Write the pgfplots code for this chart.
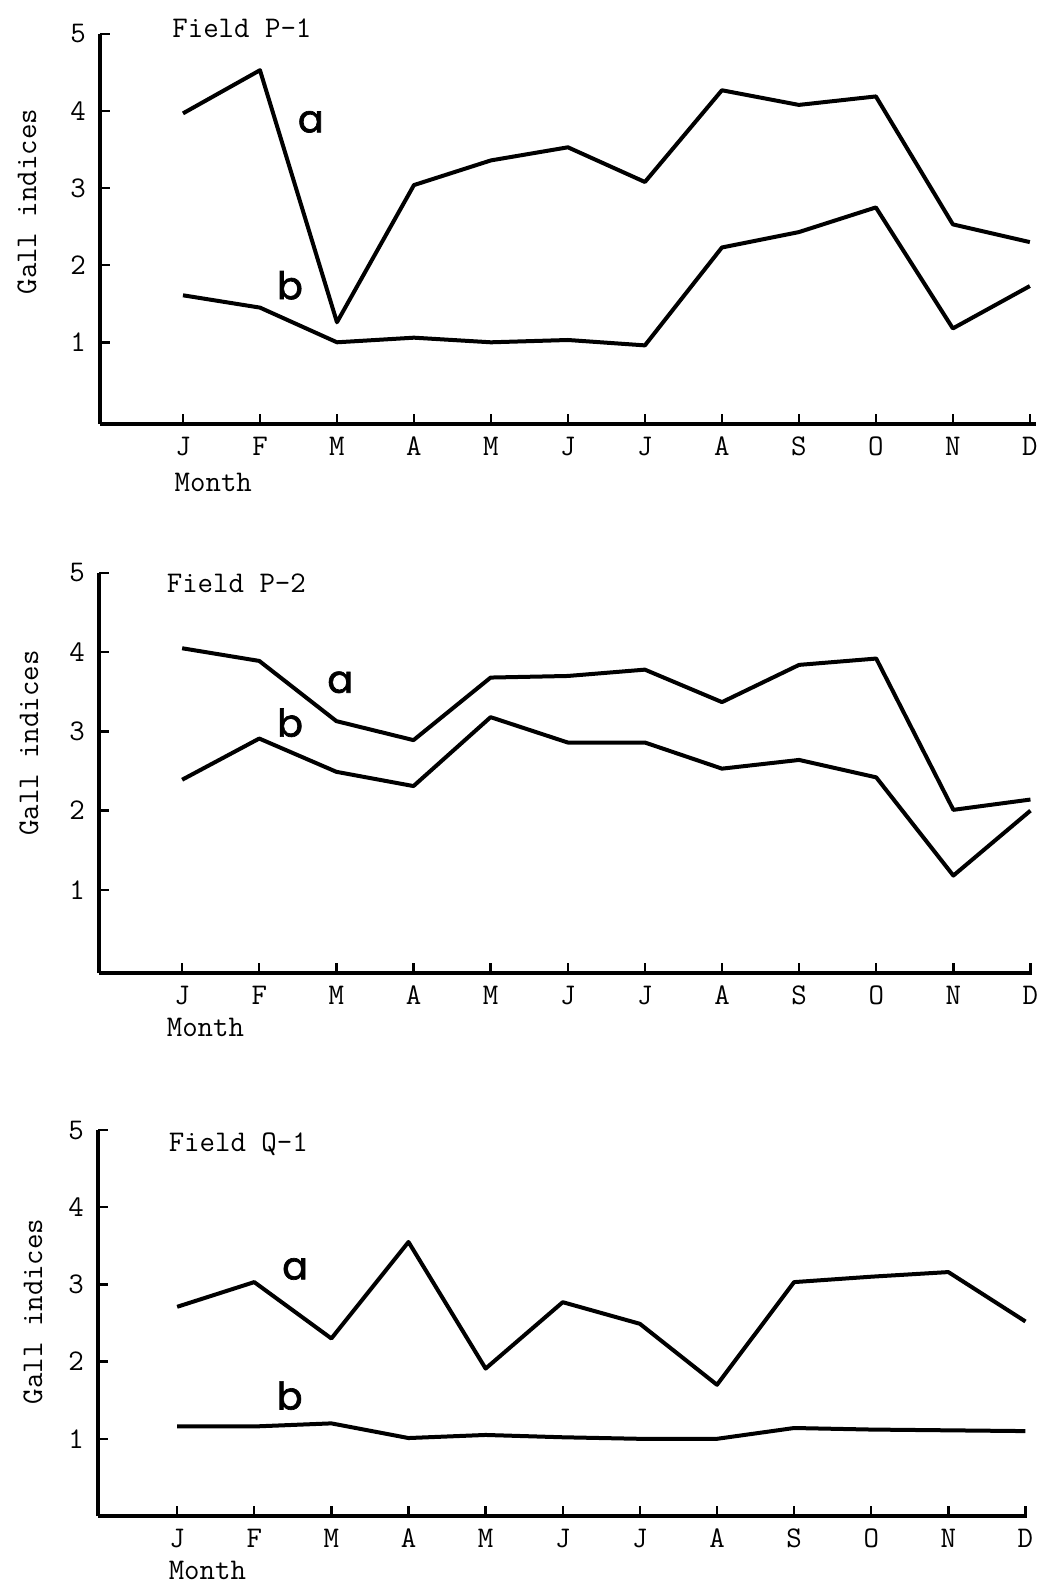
\documentclass[border=0pt]{standalone}
\usepackage{fontspec}
\newfontfamily\labfont{Poppins}[FakeBold=1.8]
\usepackage{pgfplots}
\pgfplotsset{compat=1.18}
\newcommand{\tw}{\fontsize{15}{17}\selectfont\ttfamily\addfontfeature{FakeBold=0.7}}
\newcommand{\lf}{\fontsize{19}{21}\selectfont\labfont}
\pgfplotsset{gallstyle/.style={
  scale only axis, anchor=south west,
  xmin=-0.078, xmax=12.05, ymin=-0.06, ymax=5,
  axis x line*=bottom, axis y line*=left,
  axis line style={line width=1.6pt, black},
  xtick={1,...,12}, xticklabels={J,F,M,A,M,J,J,A,S,O,N,D},
  ytick={1,2,3,4,5},
  tick align=inside, major tick length=5pt,
  tick style={line width=1.2pt, black},
  ticklabel style={font=\tw},
  /pgf/number format/assume math mode=true,
  xticklabel style={yshift=-3pt},
  yticklabel style={xshift=-3.5pt},
  ylabel={Gall indices},
  ylabel style={font=\tw, at={(axis description cs:-0.078,0.57)}, anchor=center},
  clip=false,
}}
\tikzset{gl/.style={black, line width=2pt, mark=none, line join=round}}
\begin{document}
\begin{tikzpicture}
% Panel 1: Field P-1
\begin{axis}[gallstyle, at={(50pt,-212pt)}, width=468pt, height=195pt, xmax=12.08]
\addplot[gl] coordinates {(1,3.97) (2,4.53) (3,1.26) (4,3.04) (5,3.36) (6,3.53) (7,3.08) (8,4.27) (9,4.08) (10,4.19) (11,2.53) (12,2.30)};
\addplot[gl] coordinates {(1,1.61) (2,1.45) (3,1.00) (4,1.06) (5,1.00) (6,1.03) (7,0.96) (8,2.23) (9,2.43) (10,2.75) (11,1.18) (12,1.73)};
\node[font=\lf] at (axis cs:2.66,3.86) {a};
\node[font=\lf] at (axis cs:2.39,1.74) {b};
\node[font=\tw, anchor=west] at (axis cs:0.77,5.08) {Field P-1};
\node[font=\tw, anchor=west] at (axis cs:0.8,-0.82) {Month};
\end{axis}
% Panel 2: Field P-2
\begin{axis}[gallstyle, at={(49.5pt,-486.5pt)}, width=466.5pt, height=200pt, ymin=-0.05, xmax=12.02,
  ylabel style={at={(axis description cs:-0.075,0.575)}}]
\addplot[gl] coordinates {(1,4.05) (2,3.89) (3,3.13) (4,2.89) (5,3.68) (6,3.70) (7,3.78) (8,3.37) (9,3.84) (10,3.92) (11,2.01) (12,2.14)};
\addplot[gl] coordinates {(1,2.39) (2,2.91) (3,2.49) (4,2.31) (5,3.18) (6,2.86) (7,2.86) (8,2.53) (9,2.64) (10,2.42) (11,1.18) (12,2.00)};
\node[font=\lf] at (axis cs:3.05,3.62) {a};
\node[font=\lf] at (axis cs:2.4,3.11) {b};
\node[font=\tw, anchor=west] at (axis cs:0.71,4.87) {Field P-2};
\node[font=\tw, anchor=west] at (axis cs:0.71,-0.74) {Month};
\end{axis}
% Panel 3: Field Q-1
\begin{axis}[gallstyle, at={(49pt,-758pt)}, width=464.5pt, height=193pt, ymin=0, xmin=-0.026, xmax=12.02,
  ylabel style={at={(axis description cs:-0.07,0.53)}}]
\addplot[gl] coordinates {(1,2.71) (2,3.03) (3,2.30) (4,3.55) (5,1.91) (6,2.77) (7,2.49) (8,1.70) (9,3.03) (10,3.10) (11,3.16) (12,2.52)};
\addplot[gl] coordinates {(1,1.16) (2,1.16) (3,1.20) (4,1.01) (5,1.05) (6,1.02) (7,1.00) (8,1.00) (9,1.14) (10,1.12) (11,1.11) (12,1.10)};
\node[font=\lf] at (axis cs:2.53,3.2) {a};
\node[font=\lf] at (axis cs:2.46,1.56) {b};
\node[font=\tw, anchor=west] at (axis cs:0.8,4.81) {Field Q-1};
\node[font=\tw, anchor=west] at (axis cs:0.8,-0.70) {Month};
\end{axis}
\pgfresetboundingbox
\path (0,0) rectangle (524pt,-792pt);
\end{tikzpicture}
\end{document}
